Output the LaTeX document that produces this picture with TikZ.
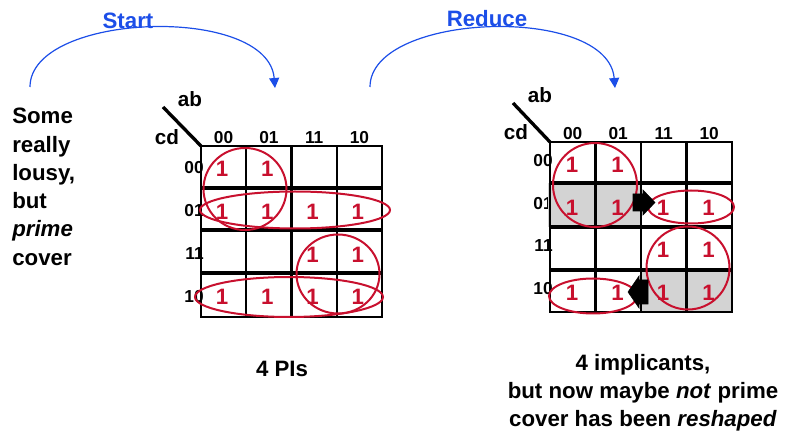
\documentclass[tikz,border=0pt]{standalone}
\usepackage{fontspec}
\setmainfont{Liberation Sans}
\usetikzlibrary{arrows.meta}

\definecolor{kred}{RGB}{200,16,46}
\definecolor{kblue}{RGB}{28,78,232}
\definecolor{kshade}{RGB}{211,211,211}

\begin{document}
\begin{tikzpicture}[x=0.75pt,y=-0.75pt,
    txt/.style={font=\fontsize{16.7}{21.2}\selectfont\bfseries, inner sep=0pt},
    varlbl/.style={font=\fontsize{15.5}{15.5}\selectfont\bfseries, inner sep=0pt},
    idx/.style={font=\fontsize{13}{13}\selectfont\bfseries, inner sep=0pt},
    one/.style={font=\fontsize{16.7}{16.7}\selectfont\bfseries, text=kred, inner sep=0pt},
    ring/.style={draw=kred, line width=1.5pt},
    gridline/.style={line width=1.7pt},
    heavyline/.style={line width=3pt},
    flow/.style={draw=kblue, line width=0.9pt, -{Triangle[length=7.5pt,width=7.5pt]}},
    flowlbl/.style={font=\fontsize{16.7}{16.7}\selectfont\bfseries, text=kblue, inner sep=0pt},
    pusher/.style={fill=black, draw=black, line width=0.4pt}]

    \useasboundingbox (0,0) rectangle (794,431);

    % Flow arcs between the pictures
    \coordinate (s1) at (30,87);
    \coordinate (s2) at (275,88);
    \coordinate (r1) at (370,87);
    \coordinate (r2) at (615,88);
    \draw[flow] (s1) .. controls (30,12) and (268,4) .. (s2);
    \draw[flow] (r1) .. controls (370,12) and (608,4) .. (r2);
    \node[flowlbl, anchor=base] (start) at (128,29) {Start};
    \node[flowlbl, anchor=base] (reduce) at (487,27) {Reduce};

    % Left comment
    \node[txt, anchor=north west, align=left] (lousy) at (12,108)
        {Some\\really\\lousy,\\but\\\textit{prime}\\cover};

    % ---------- Left K-map (prime cover) ----------
    \begin{scope}[shift={(201,146)}]
        % variable labels
        \draw[line width=2.5pt] (-38,-39) -- (0,0);
        \node[varlbl, anchor=base] (abL) at (-11,-39) {ab};
        \node[varlbl, anchor=base] (cdL) at (-34,-1) {cd};
        \foreach \c [count=\i from 0] in {00,01,11,10}
            \node[idx, anchor=base] (colL\i) at ({45.3*\i+22.6},-2) {\c};
        \foreach \r [count=\j from 0] in {00,01,11,10}
            \node[idx, anchor=east] (rowL\j) at (3,{42.7*\j+22}) {\r};
        % grid
        \draw[gridline] (0,0) rectangle (181,171);
        \foreach \i in {1,2,3}
            \draw[gridline] ({45.3*\i},0) -- ({45.3*\i},171);
        \draw[heavyline] (0,42) -- (181,42);
        \draw[line width=2.3pt] (0,84) -- (181,84);
        \draw[heavyline] (0,127) -- (181,127);
        % the ones
        \foreach \i/\j in {0/0,1/0,0/1,1/1,2/1,3/1,2/2,3/2,0/3,1/3,2/3,3/3}
            \node[one] (oneL\i\j) at ({45.3*\i+21},{42.7*\j+23}) {1};
        % prime implicants
        \draw[ring] (44,43) ellipse (41.5 and 41);
        \draw[ring] (94,64) ellipse (95 and 18.5);
        \draw[ring] (137,128) ellipse (41.5 and 39.5);
        \draw[ring] (88,151) ellipse (94 and 20);
    \end{scope}
    \node[txt, anchor=base] (pis) at (282,377) {4 PIs};

    % ---------- Right K-map (reduced cover) ----------
    \begin{scope}[shift={(550,142)}]
        % variable labels
        \draw[line width=2.5pt] (-37,-39) -- (0,0);
        \node[varlbl, anchor=base] (abR) at (-10,-39) {ab};
        \node[varlbl, anchor=base] (cdR) at (-34,-2) {cd};
        \foreach \c [count=\i from 0] in {00,01,11,10}
            \node[idx, anchor=base] (colR\i) at ({45.5*\i+22.7},-2) {\c};
        \foreach \r [count=\j from 0] in {00,01,11,10}
            \node[idx, anchor=east] (rowR\j) at (3,{42.5*\j+19}) {\r};
        % shaded cells that were dropped
        \fill[kshade] (-2,41) rectangle (92,85);
        \fill[kshade] (92,128) rectangle (182,170);
        % grid
        \draw[gridline] (0,0) rectangle (182,170);
        \foreach \i in {1,2,3}
            \draw[gridline] ({45.5*\i},0) -- ({45.5*\i},170);
        \draw[line width=2.3pt] (0,41) -- (182,41);
        \draw[line width=2.3pt] (0,85) -- (182,85);
        \draw[heavyline] (0,128) -- (182,128);
        % the ones
        \foreach \i/\j in {0/0,1/0,0/1,1/1,2/1,3/1,2/2,3/2,0/3,1/3,2/3,3/3}
            \node[one] (oneR\i\j) at ({45.5*\i+22},{42.5*\j+23}) {1};
        % reduced implicants
        \draw[ring] (45,43) ellipse (42 and 42);
        \draw[ring] (141,65) ellipse (43 and 16.5);
        \draw[ring] (138,126) ellipse (41.5 and 41.5);
        \draw[ring] (43,154) ellipse (44 and 17.5);
        % shrink arrows
        \draw[pusher] (83,52) -- (93,52) -- (93,48) -- (105,60.5)
            -- (93,73) -- (93,69) -- (83,69) -- cycle;
        \draw[pusher] (98,138) -- (89,138) -- (89,134) -- (78,150)
            -- (89,166) -- (89,162) -- (98,162) -- cycle;
    \end{scope}
    \node[txt, anchor=north, align=center] (note) at (643,354)
        {4 implicants,\\but now maybe \textit{not} prime\\cover has been \textit{reshaped}};

\end{tikzpicture}
\end{document}
